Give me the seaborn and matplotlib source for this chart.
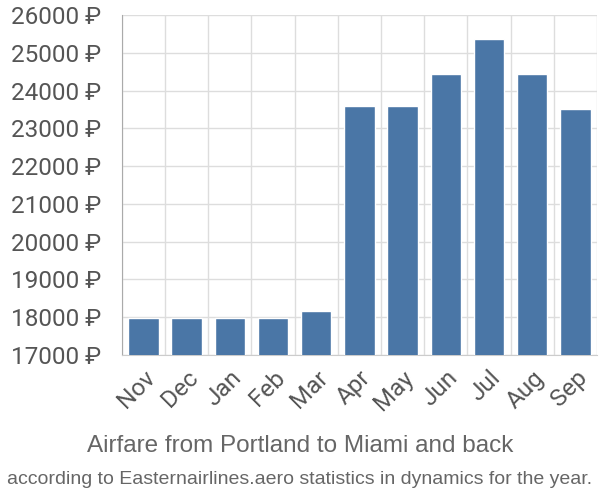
import matplotlib
matplotlib.use("Agg")
import matplotlib.pyplot as plt
import seaborn as sns
import pandas as pd
from matplotlib.ticker import FixedLocator

months = ["Nov", "Dec", "Jan", "Feb", "Mar", "Apr", "May", "Jun", "Jul", "Aug", "Sep"]
prices = [17980, 17980, 17980, 17980, 18160, 23600, 23600, 24430, 25360, 24430, 23510]
yticks = [17000, 18000, 19000, 20000, 21000, 22000, 23000, 24000, 25000, 26000]

df = pd.DataFrame({"month": months, "price": prices})

sns.set_style("white")
plt.rcParams["font.family"] = ["Roboto", "DejaVu Sans"]

fig = plt.figure(figsize=(6, 5), dpi=100)
ax = fig.add_axes([0.203, 0.29, 0.792, 0.68])

sns.barplot(data=df, x="month", y="price", color="#4a76a6", saturation=1,
            width=0.7, ax=ax, zorder=3)

ax.set_ylim(17000, 26000)
ax.set_xlim(-0.5, len(months) - 0.5)
ax.set_yticks(yticks)
ax.set_yticklabels([f"{v} ₽" for v in yticks], fontsize=17.5, color="#555555")
ax.set_xticklabels(months, rotation=45, ha="right", rotation_mode="anchor",
                   fontsize=17.5, color="#555555")
ax.tick_params(axis="x", which="major", length=0, pad=8)
ax.tick_params(axis="y", length=12, color="#dddddd", pad=3)
ax.xaxis.set_minor_locator(FixedLocator([i + 0.5 for i in range(-1, len(months))]))
ax.tick_params(axis="x", which="minor", length=13, color="#dddddd", width=1)
ax.grid(True, axis="y", color="#dddddd", linewidth=1, zorder=0)
ax.grid(True, axis="x", which="minor", color="#dddddd", linewidth=1, zorder=0)
ax.set_xlabel("")
ax.set_ylabel("")
for s in ["top", "right"]:
    ax.spines[s].set_visible(False)
ax.spines["left"].set_color("#aaaaaa")
ax.spines["bottom"].set_color("#cccccc")

fig.text(0.5, 0.095, "Airfare from Portland to Miami and back", ha="center",
         fontsize=17.5, color="#666666", family=["Liberation Sans", "DejaVu Sans"])
fig.text(0.5, 0.033, "according to Easternairlines.aero statistics in dynamics for the year.",
         ha="center", fontsize=14, color="#666666",
         family=["Liberation Sans Narrow", "Liberation Sans", "DejaVu Sans"])

fig.savefig("out.png", dpi=100)
